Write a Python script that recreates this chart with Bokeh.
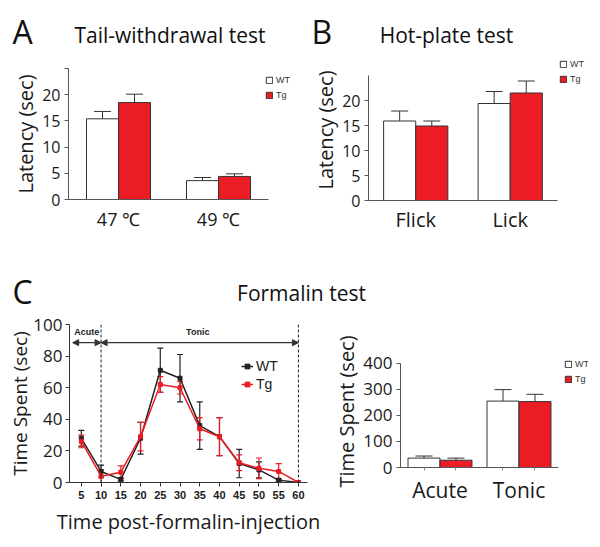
from bokeh.plotting import figure
from bokeh.models import (Range1d, ColumnDataSource, Whisker, TeeHead,
                          Legend, LegendItem, Span, Arrow, NormalHead, Label, FixedTicker)
from bokeh.transform import dodge
from bokeh.layouts import column, row
from bokeh.embed import file_html
from bokeh.resources import INLINE

FONT = "Open Sans"
ARIAL = "Liberation Sans"
RED = "#EC1C24"
AX = "#555555"

# ---------------- data ----------------
tail_cats = ["47 \u2103", "49 \u2103"]
tail_wt = [15.4, 3.6]
tail_wt_err = [1.4, 0.6]
tail_tg = [18.5, 4.4]
tail_tg_err = [1.6, 0.5]

hot_cats = ["Flick", "Lick"]
hot_wt = [15.9, 19.4]
hot_wt_err = [2.0, 2.4]
hot_tg = [14.9, 21.5]
hot_tg_err = [1.0, 2.4]

form_time = [5, 10, 15, 20, 25, 30, 35, 40, 45, 50, 55, 60]
form_wt = [28, 7, 2, 28, 71, 66, 36, 29, 12, 8, 1.5, 0]
form_wt_err = [5, 4, 1, 10, 14, 15, 15, 12, 9, 5, 1, 0]
form_tg = [26, 4, 6.5, 29, 62, 60, 34, 29, 12.5, 9, 7, 0]
form_tg_err = [4, 4, 4, 9, 5, 4, 7, 12, 5, 6.5, 5, 0]
phase_bounds = [10, 60]
phase_axis_start = 2.8

phase_cats = ["Acute", "Tonic"]
phase_wt = [36, 255]
phase_wt_err = [8, 44]
phase_tg = [28, 253]
phase_tg_err = [8, 28]


def style_axes(p, tick_font_size, label_font_size):
    p.xgrid.visible = False
    p.ygrid.visible = False
    p.outline_line_color = None
    for ax in p.axis:
        ax.axis_line_color = AX
        ax.major_tick_line_color = AX
        ax.minor_tick_line_color = None
        ax.major_label_text_font = FONT
        ax.major_label_text_font_size = tick_font_size
        ax.major_label_text_color = "#1a1a1a"
        ax.axis_label_text_font = FONT
        ax.axis_label_text_font_style = "normal"
        ax.axis_label_text_font_size = label_font_size
        ax.axis_label_text_color = "#1a1a1a"


def bar_panel(cats, wt, wt_err, tg, tg_err, width, height, borders, x_end, y_end, y_axis_top,
              ticks, ylabel, bw, legend_loc, xstand, ystand, ylabstand, xfont,
              overrides=None, bar_ticks=False):
    left, right, top, bottom = borders
    pos = [i + 1 for i in range(len(cats))]
    p = figure(x_range=Range1d(0.5, x_end), y_range=Range1d(0, y_end),
               width=width, height=height, min_border_left=left, min_border_right=right,
               min_border_top=top, min_border_bottom=bottom, output_backend="svg",
               toolbar_location=None, tools="", frame_align=False)
    src = ColumnDataSource(dict(pos=pos, wt=wt, tg=tg,
                                wt_hi=[v + e for v, e in zip(wt, wt_err)],
                                tg_hi=[v + e for v, e in zip(tg, tg_err)]))
    xw = dodge('pos', -bw / 2)
    xt = dodge('pos', bw / 2)
    for base, lo, hi in ((xw, 'wt', 'wt_hi'), (xt, 'tg', 'tg_hi')):
        p.add_layout(Whisker(source=src, base=base, lower=lo, upper=hi, line_color="#333",
                             line_width=1, lower_head=None,
                             upper_head=TeeHead(size=17, line_color="#333", line_width=1)))
    r_wt = p.vbar(x=xw, top='wt', width=bw, source=src, fill_color="white",
                  line_color="#333", line_width=1)
    r_tg = p.vbar(x=xt, top='tg', width=bw, source=src, fill_color=RED,
                  line_color="#333", line_width=1)
    style_axes(p, "16px", "20px")
    p.xaxis.major_label_text_font_size = xfont
    p.xaxis.bounds = (0.5, len(cats) + 0.5)
    p.yaxis.bounds = (0, y_axis_top)
    centers = [c + s * bw / 2 for c in pos for s in (-1, 1)] if bar_ticks else []
    p.xaxis.ticker = FixedTicker(ticks=pos, minor_ticks=centers)
    p.xaxis.major_label_overrides = {k: c for k, c in zip(pos, cats)}
    p.yaxis.ticker = FixedTicker(ticks=ticks)
    if overrides:
        p.yaxis.major_label_overrides = overrides
    p.yaxis.major_tick_out = 4
    p.yaxis.major_tick_in = 0
    p.yaxis.major_label_standoff = ystand
    p.yaxis.axis_label = ylabel
    p.yaxis.axis_label_standoff = ylabstand
    p.xaxis.major_tick_line_color = None
    p.xaxis.major_tick_out = 0
    p.xaxis.major_tick_in = 0
    if bar_ticks:
        p.xaxis.minor_tick_line_color = "#888888"
        p.xaxis.minor_tick_out = 3
        p.xaxis.minor_tick_in = 0
    p.xaxis.major_label_standoff = xstand
    leg = Legend(items=[LegendItem(label="WT", renderers=[r_wt]),
                        LegendItem(label="Tg", renderers=[r_tg])],
                 location=legend_loc, orientation="vertical",
                 glyph_width=8, glyph_height=8, label_height=8, label_width=10,
                 label_standoff=3, spacing=5, padding=0, margin=0,
                 border_line_color=None, background_fill_alpha=0,
                 label_text_font=ARIAL, label_text_font_size="9px",
                 label_text_color="#333")
    p.add_layout(leg)
    return p


def header(width, height, labels):
    h = figure(width=width, height=height, x_range=Range1d(0, width), y_range=Range1d(0, height),
               min_border=0, x_axis_type=None, y_axis_type=None, output_backend="svg",
               toolbar_location=None, tools="", frame_align=False)
    h.grid.visible = False
    h.outline_line_color = None
    for x, y, txt, size, align in labels:
        h.add_layout(Label(x=x, y=y, text=txt, text_font=FONT, text_font_size=size,
                           text_align=align, text_baseline="middle", text_color="#111"))
    return h


head1 = header(600, 58, [(12, 27, "A", "32px", "left"),
                         (169.5, 24, "Tail-withdrawal test", "21px", "center"),
                         (311, 27, "B", "32px", "left"),
                         (446, 24, "Hot-plate test", "21px", "center")])

pA = bar_panel(tail_cats, tail_wt, tail_wt_err, tail_tg, tail_tg_err, 308, 190,
               (68, 10, 10, 49), 2.8, 25, 25, [0, 5, 10, 15, 20, 25], "Latency (sec)", 0.32,
               (197, 99), 7, 4, 0, "18px", overrides={25: ""})
pB = bar_panel(hot_cats, hot_wt, hot_wt_err, hot_tg, hot_tg_err, 292, 190,
               (60, 10, 1, 48), 2.85, 28.2, 25, [0, 5, 10, 15, 20], "Latency (sec)", 0.34,
               (191, 116), 5, 4, 0, "20px")

head2 = header(600, 64, [(12, 21, "C", "32px", "left"),
                         (301, 20, "Formalin test", "21px", "center")])

# ---------------- formalin time course ----------------
pC = figure(x_range=Range1d(2, 62.3), y_range=Range1d(0, 100), width=320, height=235,
            min_border_left=69, min_border_right=13, min_border_top=12, min_border_bottom=65,
            output_backend="svg", toolbar_location=None, tools="", frame_align=False)
fsrc = ColumnDataSource(dict(t=form_time, wt=form_wt, tg=form_tg,
                             wt_lo=[v - e for v, e in zip(form_wt, form_wt_err)],
                             wt_hi=[v + e for v, e in zip(form_wt, form_wt_err)],
                             tg_lo=[v - e for v, e in zip(form_tg, form_tg_err)],
                             tg_hi=[v + e for v, e in zip(form_tg, form_tg_err)]))
for xb in phase_bounds:
    pC.add_layout(Span(location=xb, dimension="height", line_color="#222",
                       line_dash="3 2", line_width=1))
for col, lo, hi in (("#222", "wt_lo", "wt_hi"), (RED, "tg_lo", "tg_hi")):
    pC.add_layout(Whisker(source=fsrc, base="t", lower=lo, upper=hi, line_color=col,
                          line_width=1.2,
                          lower_head=TeeHead(size=6, line_color=col, line_width=1.2),
                          upper_head=TeeHead(size=6, line_color=col, line_width=1.2)))
l_wt = pC.line("t", "wt", source=fsrc, line_color="#222", line_width=1.5)
m_wt = pC.scatter("t", "wt", source=fsrc, marker="square", size=4, color="#222")
l_tg = pC.line("t", "tg", source=fsrc, line_color=RED, line_width=1.5)
m_tg = pC.scatter("t", "tg", source=fsrc, marker="square", size=4, color=RED)
arrow_y = 88.5
pC.add_layout(Arrow(x_start=phase_axis_start, x_end=phase_bounds[0], y_start=arrow_y, y_end=arrow_y,
                    line_color="#333", line_width=1.2,
                    start=NormalHead(size=6, fill_color="#333", line_color="#333"),
                    end=NormalHead(size=6, fill_color="#333", line_color="#333")))
pC.add_layout(Arrow(x_start=phase_bounds[0], x_end=phase_bounds[1], y_start=arrow_y, y_end=arrow_y,
                    line_color="#333", line_width=1.2,
                    start=NormalHead(size=6, fill_color="#333", line_color="#333"),
                    end=NormalHead(size=6, fill_color="#333", line_color="#333")))
pC.add_layout(Label(x=3.2, y=95, text="Acute", text_font=ARIAL, text_font_style="bold",
                    text_font_size="9px", text_color="#222", text_baseline="alphabetic"))
pC.add_layout(Label(x=(phase_bounds[0] + phase_bounds[1]) / 2 - 0.5, y=95, text="Tonic",
                    text_font=ARIAL, text_font_style="bold", text_font_size="9px",
                    text_color="#222", text_align="center", text_baseline="alphabetic"))
style_axes(pC, "17px", "19px")
pC.xaxis.axis_label_text_font_size = "20px"
pC.xaxis.ticker = FixedTicker(ticks=form_time)
pC.yaxis.ticker = FixedTicker(ticks=[0, 20, 40, 60, 80, 100])
pC.xaxis.major_label_text_font = ARIAL
pC.xaxis.major_label_text_font_style = "bold"
pC.xaxis.major_label_text_font_size = "11px"
pC.xaxis.major_tick_out = 4
pC.xaxis.major_tick_in = 0
pC.yaxis.major_tick_out = 4
pC.yaxis.major_tick_in = 0
pC.xaxis.major_label_standoff = 4
pC.yaxis.major_label_standoff = 3
pC.xaxis.axis_label = "Time post-formalin-injection"
pC.yaxis.axis_label = "Time Spent (sec)"
pC.xaxis.axis_label_standoff = 6
pC.yaxis.axis_label_standoff = -3
pC.axis.axis_line_color = "#333"
pC.axis.major_tick_line_color = "#333"
legC = Legend(items=[LegendItem(label="WT", renderers=[l_wt, m_wt]),
                     LegendItem(label="Tg", renderers=[l_tg, m_tg])],
              location=(172, 90), glyph_width=12, glyph_height=12, label_height=12,
              label_standoff=3, spacing=2, padding=0, margin=0, border_line_color=None,
              background_fill_alpha=0, label_text_font=ARIAL, label_text_font_size="14px",
              label_text_color="#222")
pC.add_layout(legC)

# ---------------- formalin phases bar ----------------
pD = bar_panel(phase_cats, phase_wt, phase_wt_err, phase_tg, phase_tg_err, 280, 235,
               (80, 12, 43, 80), 2.88, 430, 400, [0, 100, 200, 300, 400], "Time Spent (sec)",
               0.405, (164, 83), 5, 4, 0, "21px", bar_ticks=True)
pD.yaxis.major_label_text_font_size = "17px"

layout = column(head1, row(pA, pB), head2, row(pC, pD))
open("out.html", "w").write(file_html(layout, INLINE))
